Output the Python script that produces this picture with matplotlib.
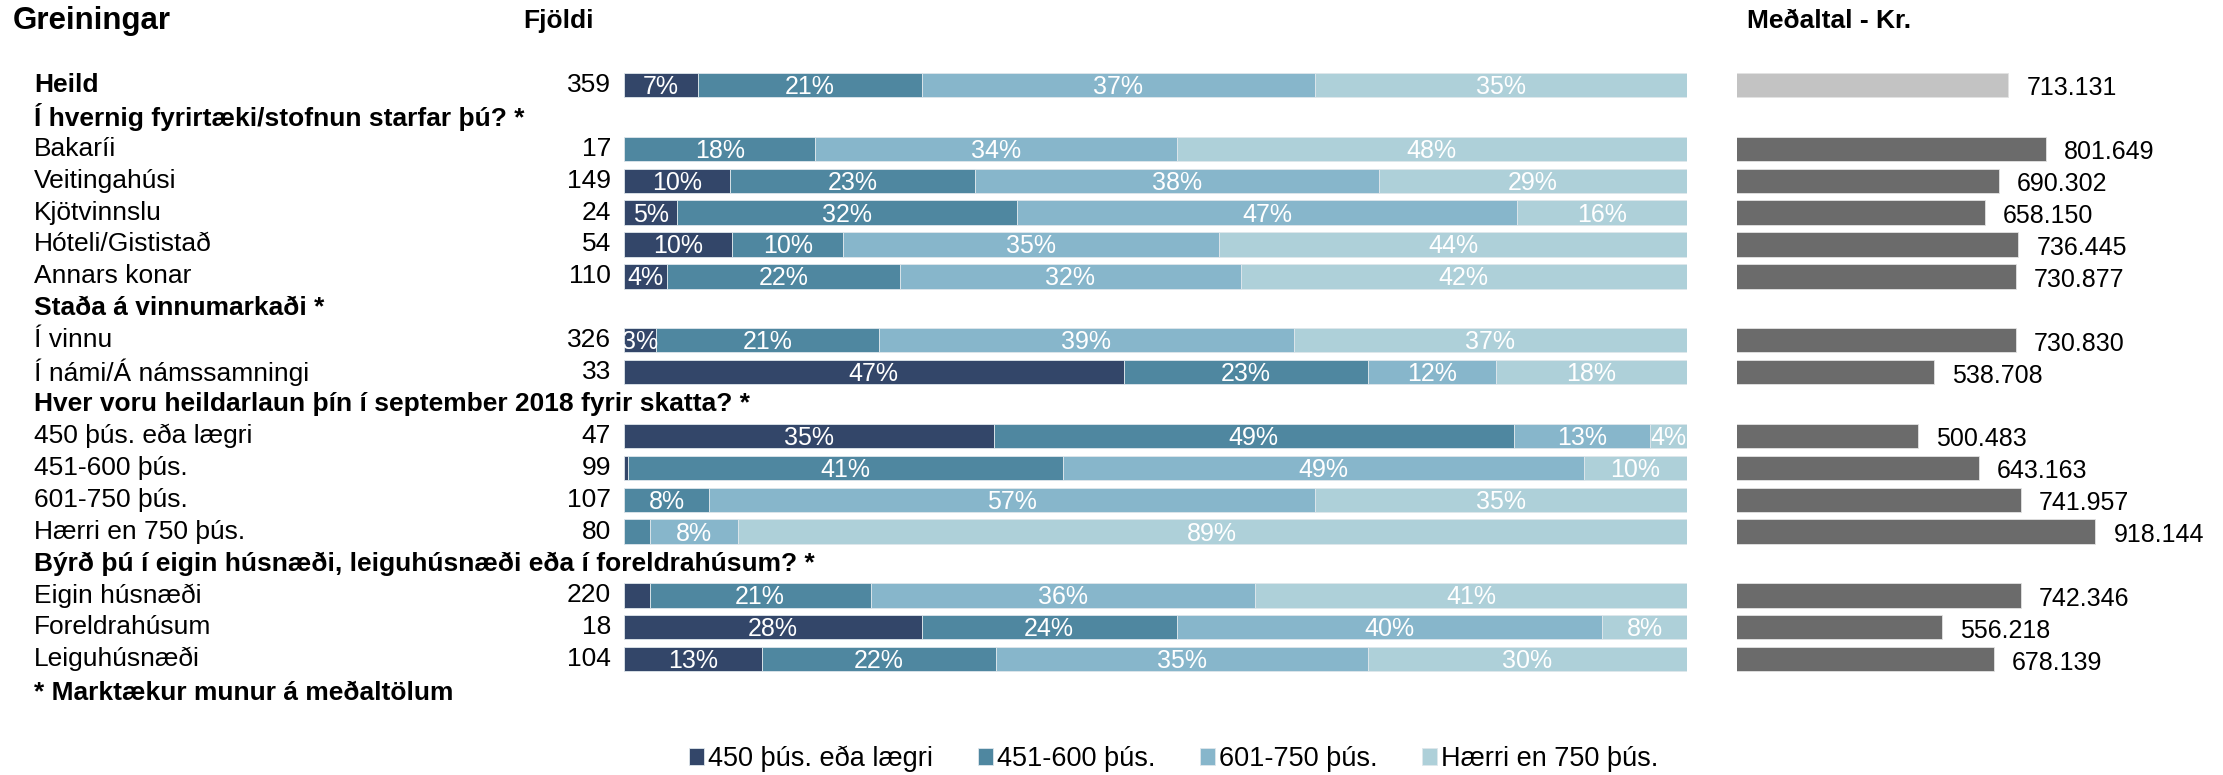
import matplotlib.pyplot as plt
import numpy as np

plt.rcParams['font.family'] = ['Liberation Sans', 'DejaVu Sans']

# rows top to bottom; None = group header row (no bars)
row_labels = ['Heild',
              'Í hvernig fyrirtæki/stofnun starfar þú? *',
              'Bakaríi', 'Veitingahúsi', 'Kjötvinnslu', 'Hóteli/Gististað', 'Annars konar',
              'Staða á vinnumarkaði *',
              'Í vinnu', 'Í námi/Á námssamningi',
              'Hver voru heildarlaun þín í september 2018 fyrir skatta? *',
              '450 þús. eða lægri', '451-600 þús.', '601-750 þús.', 'Hærri en 750 þús.',
              'Býrð þú í eigin húsnæði, leiguhúsnæði eða í foreldrahúsum? *',
              'Eigin húsnæði', 'Foreldrahúsum', 'Leiguhúsnæði']
bold_rows = [0, 1, 7, 10, 15]

counts = [359, None, 17, 149, 24, 54, 110, None, 326, 33, None, 47, 99, 107, 80, None, 220, 18, 104]

p450 = [7, None, 0, 10, 5, 10.2, 4, None, 3, 47, None, 34.8, 0.4, 0, 0, None, 2.4, 28, 13]
p451_600 = [21, None, 18, 23, 32, 10.4, 22, None, 21, 23, None, 48.9, 40.9, 8, 2.4, None, 20.8, 24, 22]
p601_750 = [37, None, 34, 38, 47, 35.4, 32, None, 39, 12, None, 12.8, 49.0, 57, 8.3, None, 36.2, 40, 35]
p750 = [35, None, 48, 29, 16, 44.0, 42, None, 37, 18, None, 3.5, 9.7, 35, 89.3, None, 40.6, 8, 30]

means = [713131, None, 801649, 690302, 658150, 736445, 730877, None, 730830, 538708, None,
         500483, 643163, 741957, 918144, None, 742346, 556218, 678139]

legend_labels = ['450 þús. eða lægri', '451-600 þús.', '601-750 þús.', 'Hærri en 750 þús.']
colors = ['#334669', '#4f87a0', '#87b6cb', '#aed0d9']

W, H = 2223, 775
fig = plt.figure(figsize=(W / 100, H / 100), dpi=100)

# pixel layout
row_h = 31.9
y0 = 85
top_px = y0 - row_h / 2
bot_px = y0 + 19.5 * row_h
ax_b = 1 - bot_px / H
ax_h = (bot_px - top_px) / H
ax = fig.add_axes([624 / W, ax_b, 1063 / W, ax_h])
ax2 = fig.add_axes([1737 / W, ax_b, 463 / W, ax_h])

rows = [i for i, c in enumerate(counts) if c is not None]
fs = 19
fs_bar = 18

# stacked percentage bars
left = np.zeros(len(rows))
for vals, col, lab in zip([p450, p451_600, p601_750, p750], colors, legend_labels):
    v = np.array([vals[i] for i in rows], dtype=float)
    bars = ax.barh(rows, v, left=left, height=0.76, color=col,
                   edgecolor='#dfe7ec', linewidth=0.6, label=lab)
    for b, val in zip(bars, v):
        if val >= 2.5:
            ax.text(b.get_x() + b.get_width() / 2, b.get_y() + b.get_height() / 2 + 0.06,
                    f'{val:.0f}%', ha='center', va='center', color='white', fontsize=fs_bar)
    left += v

ax.set_xlim(0, 100)
ax.set_ylim(19.5, -0.5)
ax.axis('off')

# row labels and counts
tr = ax.get_yaxis_transform()
lab_x = (34 - 624) / 1063
cnt_x = (611 - 624) / 1063
for i, lab in enumerate(row_labels):
    ax.text(lab_x, i, lab, transform=tr, ha='left', va='center', fontsize=fs,
            fontweight='bold' if i in bold_rows else 'normal')
    if counts[i] is not None:
        ax.text(cnt_x, i, str(counts[i]), transform=tr, ha='right', va='center', fontsize=fs)
ax.text(lab_x, 19.05, '* Marktækur munur á meðaltölum', transform=tr, ha='left', va='center',
        fontsize=fs, fontweight='bold')

# mean salary bars
m_vals = [means[i] for i in rows]
m_cols = ['#c3c3c3' if i == 0 else '#6b6b6b' for i in rows]
mbars = ax2.barh(rows, m_vals, height=0.76, color=m_cols, edgecolor='#e3e3e3', linewidth=0.6)
for b, val in zip(mbars, m_vals):
    ax2.annotate(f'{val:,}'.replace(',', '.'), (b.get_width(), b.get_y() + b.get_height() / 2),
                 xytext=(13, -2.5), textcoords='offset points', ha='left', va='center', fontsize=18)
ax2.set_xlim(73000, 1165000)
ax2.set_ylim(19.5, -0.5)
ax2.axis('off')

# column headers
fig.text(13 / W, 1 - 21 / H, 'Greiningar', ha='left', va='center', fontsize=22.5, fontweight='bold')
fig.text(594 / W, 1 - 21 / H, 'Fjöldi', ha='right', va='center', fontsize=19, fontweight='bold')
fig.text(1747 / W, 1 - 21 / H, 'Meðaltal - Kr.', ha='left', va='center', fontsize=19, fontweight='bold')

fig.legend(loc='center', bbox_to_anchor=(1174 / W, 1 - 759 / H), ncol=4, frameon=False,
           fontsize=19.5, handlelength=0.55, handleheight=0.55, handletextpad=0.15, columnspacing=1.65)

fig.savefig('out.png', dpi=100)
